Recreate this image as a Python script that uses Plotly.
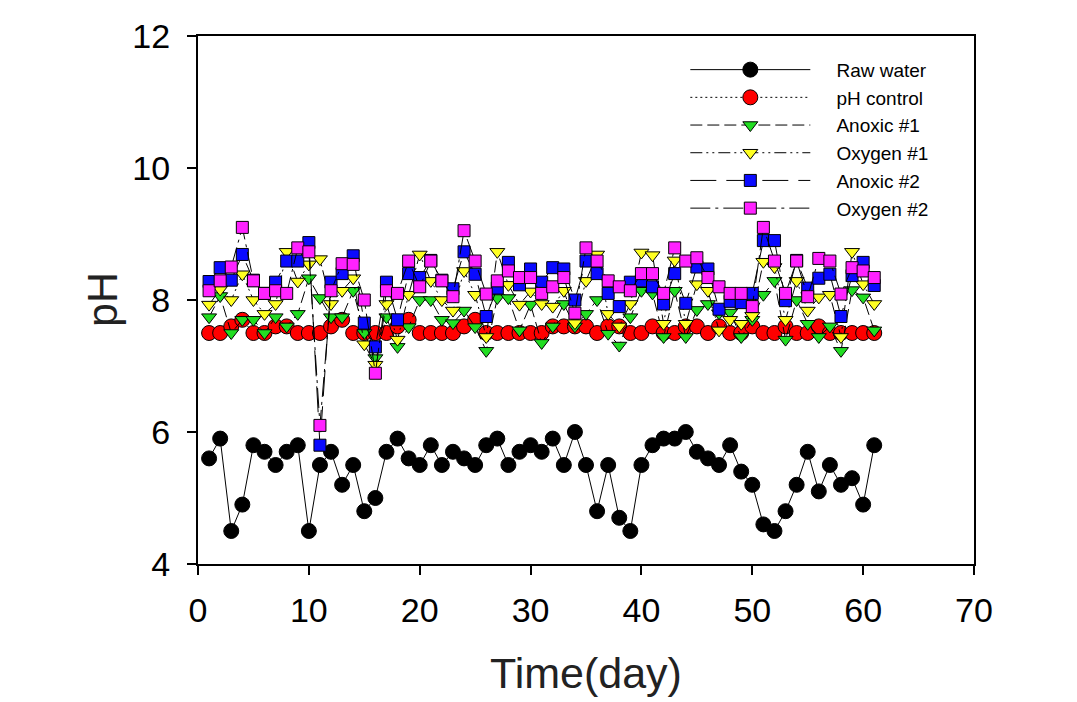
import plotly.graph_objects as go

days = list(range(1, 62))

raw_water = [5.6, 5.9, 4.5, 4.9, 5.8, 5.7, 5.5, 5.7, 5.8, 4.5,
             5.5, 5.7, 5.2, 5.5, 4.8, 5.0, 5.7, 5.9, 5.6, 5.5,
             5.8, 5.5, 5.7, 5.6, 5.5, 5.8, 5.9, 5.5, 5.7, 5.8,
             5.7, 5.9, 5.5, 6.0, 5.5, 4.8, 5.5, 4.7, 4.5, 5.5,
             5.8, 5.9, 5.9, 6.0, 5.7, 5.6, 5.5, 5.8, 5.4, 5.2,
             4.6, 4.5, 4.8, 5.2, 5.7, 5.1, 5.5, 5.2, 5.3, 4.9, 5.8]

ph_control = [7.5, 7.5, 7.6, 7.7, 7.5, 7.5, 7.6, 7.6, 7.5, 7.5,
              7.5, 7.6, 7.7, 7.5, 7.5, 7.5, 7.5, 7.6, 7.7, 7.5,
              7.5, 7.5, 7.5, 7.6, 7.7, 7.5, 7.5, 7.5, 7.5, 7.5,
              7.5, 7.6, 7.6, 7.6, 7.6, 7.5, 7.6, 7.6, 7.5, 7.5,
              7.6, 7.5, 7.5, 7.6, 7.6, 7.5, 7.6, 7.5, 7.5, 7.6,
              7.5, 7.5, 7.6, 7.5, 7.5, 7.6, 7.5, 7.5, 7.5, 7.5, 7.5]

anoxic_1 = [7.74, 8.06, 7.5, 7.7, 7.7, 7.5, 7.74, 7.6, 7.79, 8.33,
            8.03, 7.74, 7.74, 8.14, 7.5, 7.12, 7.74, 7.29, 7.59, 8.0,
            8.0, 7.7, 7.65, 7.84, 7.59, 7.23, 8.03, 8.03, 7.54, 7.93,
            7.35, 7.6, 7.94, 7.6, 7.79, 8.0, 7.49, 7.31, 7.74, 8.14,
            8.1, 7.44, 8.14, 7.44, 7.85, 7.94, 7.8, 7.81, 7.44, 7.7,
            8.08, 8.29, 7.4, 8.0, 7.64, 7.44, 7.6, 7.23, 8.15, 8.04, 7.54]

oxygen_1 = [7.93, 8.16, 8.0, 8.39, 8.0, 7.79, 7.94, 8.73, 8.28, 8.54,
            8.62, 7.94, 8.14, 8.33, 7.33, 7.02, 7.94, 7.4, 8.08, 8.69,
            8.29, 8.0, 7.84, 8.44, 8.08, 7.44, 8.73, 8.23, 7.93, 8.13,
            7.94, 7.9, 8.14, 7.65, 8.29, 8.69, 7.79, 7.6, 7.94, 8.72,
            8.68, 7.64, 8.6, 7.64, 8.24, 8.14, 7.54, 7.7, 7.64, 7.76,
            8.58, 8.5, 7.7, 8.29, 7.84, 8.04, 8.08, 7.44, 8.73, 8.24, 7.94]

anoxic_2 = [8.28, 8.49, 8.3, 8.69, 8.3, 8.1, 8.27, 8.59, 8.59, 8.87,
            5.8, 8.27, 8.4, 8.67, 7.65, 7.29, 8.27, 7.7, 8.4, 8.34,
            8.6, 8.3, 8.17, 8.73, 8.39, 7.75, 8.18, 8.57, 8.23, 8.47,
            8.27, 8.49, 8.47, 8.0, 8.59, 8.4, 8.1, 7.9, 8.27, 8.29,
            8.2, 7.94, 8.4, 7.95, 8.5, 8.47, 7.86, 7.98, 7.96, 8.1,
            8.9, 8.9, 7.99, 8.6, 8.18, 8.33, 8.39, 7.75, 8.37, 8.57, 8.22]

oxygen_2 = [8.14, 8.29, 8.5, 9.1, 8.29, 8.1, 8.14, 8.1, 8.79, 8.73,
            6.1, 8.14, 8.55, 8.54, 8.0, 6.89, 8.14, 8.1, 8.59, 8.2,
            8.59, 8.29, 8.05, 9.05, 8.59, 8.09, 8.29, 8.44, 8.34, 8.34,
            8.1, 8.2, 8.34, 7.8, 8.79, 8.59, 8.29, 8.2, 8.14, 8.4,
            8.4, 8.1, 8.79, 8.59, 8.64, 8.34, 8.2, 8.1, 8.1, 7.9,
            9.1, 8.59, 8.1, 8.59, 8.05, 8.63, 8.59, 8.09, 8.49, 8.44, 8.34]

series_names = ["Raw water", "pH control", "Anoxic #1", "Oxygen #1", "Anoxic #2", "Oxygen #2"]
series_values = [raw_water, ph_control, anoxic_1, oxygen_1, anoxic_2, oxygen_2]
styles = [
    ("circle", "black", 15, "solid"),
    ("circle", "red", 15, "2px,3px"),
    ("triangle-down", "#22dd22", 13, "12px,5px"),
    ("triangle-down", "#ffff22", 13, "12px,4px,2px,4px,2px,4px"),
    ("square", "#0a0aff", 12, "26px,10px"),
    ("square", "#ff22ff", 12, "20px,5px,3px,5px"),
]

fig = go.Figure()
for name, vals, (sym, col, size, dash) in zip(series_names, series_values, styles):
    fig.add_trace(go.Scatter(
        x=days, y=vals, name="\u00a0\u00a0\u00a0\u00a0" + name, mode="lines+markers",
        line=dict(color="black", width=1, dash=dash),
        marker=dict(symbol=sym, color=col, size=size,
                    line=dict(color="black", width=1)),
    ))

font_family = "Liberation Sans, Arial, sans-serif"

fig.update_layout(
    width=1077, height=702,
    margin=dict(l=198, r=103, t=36, b=138),
    paper_bgcolor="white", plot_bgcolor="white",
    font=dict(family=font_family, color="black"),
    showlegend=True,
    legend=dict(x=0.628, y=0.972, xanchor="left", yanchor="top",
                bgcolor="rgba(0,0,0,0)", font=dict(size=19, color="black"),
                itemwidth=120, tracegroupgap=0),
    xaxis=dict(range=[0, 70], tickvals=[0, 10, 20, 30, 40, 50, 60, 70],
               showgrid=False, zeroline=False, showline=True, mirror=True,
               linecolor="black", linewidth=2, ticks="outside", ticklen=9,
               tickwidth=2, tickcolor="black", ticklabelstandoff=6,
               tickfont=dict(size=34, color="black")),
    yaxis=dict(range=[4, 12], tickvals=[4, 6, 8, 10, 12],
               showgrid=False, zeroline=False, showline=True, mirror=True,
               linecolor="black", linewidth=2, ticks="outside", ticklen=9,
               tickwidth=2, tickcolor="black", ticklabelstandoff=10,
               tickfont=dict(size=34, color="black")),
    annotations=[
        dict(text="Time(day)", xref="paper", yref="paper", x=0.5, y=0,
             yshift=-109, xanchor="center", yanchor="middle", showarrow=False,
             font=dict(size=43, color="#222222")),
        dict(text="pH", xref="paper", yref="paper", x=0, y=0.5,
             xshift=-96, xanchor="center", yanchor="middle", showarrow=False,
             textangle=-90, font=dict(size=43, color="#222222")),
    ],
)

fig.write_html("out.html")
